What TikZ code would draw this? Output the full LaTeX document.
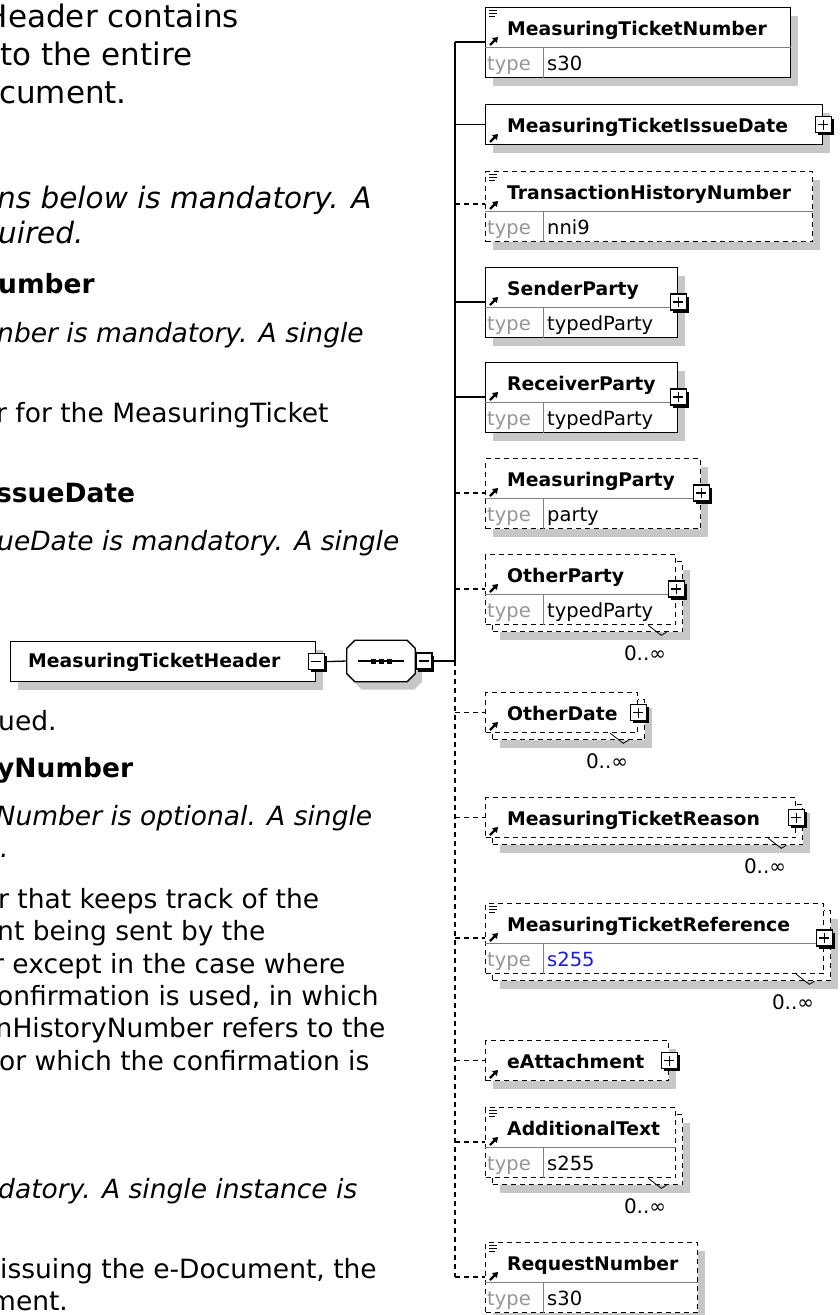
\documentclass[tikz,border=0pt]{standalone}
\usepackage{fontspec}
\setmainfont{DejaVu Sans}[ItalicFont={DejaVu Sans Oblique},BoldFont={DejaVu Sans Bold},BoldItalicFont={DejaVu Sans Bold Oblique}]
\usetikzlibrary{arrows.meta,shadows}
\definecolor{typegray}{RGB}{150,150,150}
\definecolor{refblue}{RGB}{25,25,235}
\tikzset{
    elbox/.style={draw,fill=white,line width=1.3pt,inner sep=0pt,anchor=north west},
    opt/.style={dash pattern=on 5pt off 4pt},
    drop/.style={general shadow={fill=black!22,shadow xshift=7pt,shadow yshift=-8pt}},
    rowline/.style={draw=black!50,line width=1pt},
    link/.style={line width=1.3pt},
    elname/.style={anchor=base west,inner sep=0pt,font=\fontsize{18.8}{22}\selectfont\bfseries},
    eltype/.style={anchor=base west,inner sep=0pt,text=typegray,font=\fontsize{19.5}{22}\selectfont},
    elval/.style={anchor=base west,inner sep=0pt,font=\fontsize{19.5}{22}\selectfont},
    occurs/.style={anchor=east,inner sep=0pt,font=\fontsize{20}{22}\selectfont},
    pmbox/.style={draw,fill=white,line width=1.3pt,minimum size=16pt,inner sep=0pt,
        general shadow={fill=black,shadow xshift=2.5pt,shadow yshift=-2.5pt}},
    plusbox/.style={pmbox,path picture={\draw[line width=1.3pt]
        ([xshift=-5pt]path picture bounding box.center) -- ([xshift=5pt]path picture bounding box.center)
        ([yshift=-5pt]path picture bounding box.center) -- ([yshift=5pt]path picture bounding box.center);}},
    minusbox/.style={pmbox,path picture={\draw[line width=1.3pt]
        ([xshift=-5pt]path picture bounding box.center) -- ([xshift=5pt]path picture bounding box.center);}},
    para/.style={anchor=base west,inner sep=0pt,font=\fontsize{26.5}{32}\selectfont},
    paraem/.style={para,font=\fontsize{26.5}{32}\selectfont\itshape},
    parabf/.style={para,font=\fontsize{26.5}{32}\selectfont\bfseries},
    paralead/.style={para,font=\fontsize{31}{38}\selectfont},
    paraleadem/.style={para,font=\fontsize{29.5}{36}\selectfont\itshape},
    docmark/.pic={\draw[line width=1pt] (0,0) -- (8,0) (0,3) -- (8,3) (0,6) -- (6,6);},
    refmark/.pic={\draw[line width=2.2pt,-{Triangle[length=5pt,width=6.5pt]}] (0,0) -- (8,-8);}
}
\begin{document}
\begin{tikzpicture}[x=1pt,y=-1pt]
    \useasboundingbox (0,0) rectangle (840,1315);
    %% text of the page beside the diagram
    \node[paralead] (p1) at (8,27) {\llap{H}eader contains};
    \node[paralead] (p2) at (0,65) {to the entire};
    \node[paralead] (p3) at (-1,103) {cument.};
    \node[paraleadem] (p4) at (-3,208) {ns below is mandatory. A};
    \node[paraleadem] (p5) at (-2,243) {uired.};
    \node[parabf] (p6) at (-2,293) {umber};
    \node[paraem] (p7) at (-3,342) {nber is mandatory. A single};
    \node[para] (p8) at (-4,422) {r for the MeasuringTicket};
    \node[parabf] (p9) at (-4,502) {ssueDate};
    \node[paraem] (p10) at (-3,550) {ueDate is mandatory. A single};
    \node[para] (p11) at (-2,730) {ued.};
    \node[parabf] (p12) at (-3,777) {yNumber};
    \node[paraem] (p13) at (-4.5,825) {Number is optional. A single};
    \node[paraem] (p14) at (0,857) {.};
    \node[para] (p15) at (-2,908) {r that keeps track of the};
    \node[para] (p16) at (-3,940) {nt being sent by the};
    \node[para] (p17) at (-7,973) {r except in the case where};
    \node[para] (p18) at (-3,1005) {onfirmation is used, in which};
    \node[para] (p19) at (-4.5,1037) {nHistoryNumber refers to the};
    \node[para] (p20) at (-1,1070) {or which the confirmation is};
    \node[paraem] (p21) at (-2,1198) {datory. A single instance is};
    \node[para] (p22) at (0,1278) {issuing the e-Document, the};
    \node[para] (p23) at (-10,1310) {ment.};

    %% MeasuringTicketHeader and its sequence
    \node[elbox,drop,minimum width=305pt,minimum height=40pt] (hdr) at (10,641) {};
    \node[elname] (hdr-l) at ([shift={(18,26)}]hdr.north west) {MeasuringTicketHeader};
    \node[minusbox] (hdr-m) at (hdr.east) {};
    \node[minimum width=68pt,minimum height=41pt,inner sep=0pt] (seq) at (381,661) {};
    \fill[black!22,transform canvas={shift={(7pt,-8pt)}}] ([xshift=8pt]seq.north west) -- ([xshift=-8pt]seq.north east)
        -- ([yshift=-8pt]seq.north east) -- ([yshift=8pt]seq.south east) -- ([xshift=-8pt]seq.south east)
        -- ([xshift=8pt]seq.south west) -- ([yshift=8pt]seq.south west) -- ([yshift=-8pt]seq.north west) -- cycle;
    \draw[link,fill=white] ([xshift=8pt]seq.north west) -- ([xshift=-8pt]seq.north east)
        -- ([yshift=-8pt]seq.north east) -- ([yshift=8pt]seq.south east) -- ([xshift=-8pt]seq.south east)
        -- ([xshift=8pt]seq.south west) -- ([yshift=8pt]seq.south west) -- ([yshift=-8pt]seq.north west) -- cycle;
    \draw[link] ([xshift=-23pt]seq.center) -- ([xshift=23pt]seq.center);
    \fill ([xshift=-8pt]seq.center) +(-2.5,-2.5) rectangle +(2.5,2.5);
    \fill (seq.center) +(-2.5,-2.5) rectangle +(2.5,2.5);
    \fill ([xshift=8pt]seq.center) +(-2.5,-2.5) rectangle +(2.5,2.5);
    \node[minusbox,anchor=west] (seq-m) at (seq.east) {};
    \coordinate (spine) at (455,661);

    %% MeasuringTicketNumber
    \node[elbox,drop,minimum width=305pt,minimum height=70pt] (tnum) at (485,7) {};
    \draw[rowline] ([yshift=-40pt]tnum.north west) -- ([yshift=-40pt]tnum.north east)
        ([shift={(58,40)}]tnum.north west) -- ([xshift=58pt]tnum.south west);
    \node[elname] (tnum-l) at ([shift={(22,28)}]tnum.north west) {MeasuringTicketNumber};
    \node[eltype] (tnum-t) at ([shift={(2,63)}]tnum.north west) {type};
    \node[elval] (tnum-v) at ([shift={(62,63)}]tnum.north west) {s30};
    \coordinate (tnum-p) at ([yshift=-35pt]tnum.north west);
    \pic at ([shift={(4,3)}]tnum.north west) {docmark};
    \pic at ([shift={(5,38)}]tnum.north west) {refmark};

    %% MeasuringTicketIssueDate
    \node[elbox,drop,minimum width=337pt,minimum height=40pt] (tdate) at (485,104) {};
    \node[elname] (tdate-l) at ([shift={(22,28)}]tdate.north west) {MeasuringTicketIssueDate};
    \coordinate (tdate-p) at (tdate.west);
    \node[plusbox] (tdate-x) at (tdate.east) {};
    \pic at ([shift={(5,38)}]tdate.north west) {refmark};

    %% TransactionHistoryNumber
    \node[elbox,opt,drop,minimum width=327pt,minimum height=70pt] (thist) at (485,171) {};
    \draw[rowline] ([yshift=-40pt]thist.north west) -- ([yshift=-40pt]thist.north east)
        ([shift={(58,40)}]thist.north west) -- ([xshift=58pt]thist.south west);
    \node[elname] (thist-l) at ([shift={(22,28)}]thist.north west) {TransactionHistoryNumber};
    \node[eltype] (thist-t) at ([shift={(2,63)}]thist.north west) {type};
    \node[elval] (thist-v) at ([shift={(62,63)}]thist.north west) {nni9};
    \coordinate (thist-p) at ([yshift=-33pt]thist.north west);
    \pic at ([shift={(4,3)}]thist.north west) {docmark};
    \pic at ([shift={(5,38)}]thist.north west) {refmark};

    %% SenderParty
    \node[elbox,drop,minimum width=192pt,minimum height=70pt] (send) at (485,267) {};
    \draw[rowline] ([yshift=-40pt]send.north west) -- ([yshift=-40pt]send.north east)
        ([shift={(58,40)}]send.north west) -- ([xshift=58pt]send.south west);
    \node[elname] (send-l) at ([shift={(22,28)}]send.north west) {SenderParty};
    \node[eltype] (send-t) at ([shift={(2,63)}]send.north west) {type};
    \node[elval] (send-v) at ([shift={(62,63)}]send.north west) {typedParty};
    \coordinate (send-p) at ([yshift=-35pt]send.north west);
    \node[plusbox] (send-x) at (send.east |- send-p) {};
    \pic at ([shift={(5,38)}]send.north west) {refmark};

    %% ReceiverParty
    \node[elbox,drop,minimum width=192pt,minimum height=70pt] (recv) at (485,362) {};
    \draw[rowline] ([yshift=-40pt]recv.north west) -- ([yshift=-40pt]recv.north east)
        ([shift={(58,40)}]recv.north west) -- ([xshift=58pt]recv.south west);
    \node[elname] (recv-l) at ([shift={(22,28)}]recv.north west) {ReceiverParty};
    \node[eltype] (recv-t) at ([shift={(2,63)}]recv.north west) {type};
    \node[elval] (recv-v) at ([shift={(62,63)}]recv.north west) {typedParty};
    \coordinate (recv-p) at ([yshift=-35pt]recv.north west);
    \node[plusbox] (recv-x) at (recv.east |- recv-p) {};
    \pic at ([shift={(5,38)}]recv.north west) {refmark};

    %% MeasuringParty
    \node[elbox,opt,drop,minimum width=215pt,minimum height=70pt] (mparty) at (485,458) {};
    \draw[rowline] ([yshift=-40pt]mparty.north west) -- ([yshift=-40pt]mparty.north east)
        ([shift={(58,40)}]mparty.north west) -- ([xshift=58pt]mparty.south west);
    \node[elname] (mparty-l) at ([shift={(22,28)}]mparty.north west) {MeasuringParty};
    \node[eltype] (mparty-t) at ([shift={(2,63)}]mparty.north west) {type};
    \node[elval] (mparty-v) at ([shift={(62,63)}]mparty.north west) {party};
    \coordinate (mparty-p) at ([yshift=-35pt]mparty.north west);
    \node[plusbox] (mparty-x) at (mparty.east |- mparty-p) {};
    \pic at ([shift={(5,38)}]mparty.north west) {refmark};

    %% OtherParty, 0..unbounded
    \node[elbox,opt,drop,minimum width=190pt,minimum height=70pt] (oparty-b) at (492,561) {};
    \node[elbox,opt,minimum width=190pt,minimum height=70pt] (oparty) at (485,554) {};
    \draw[rowline] ([yshift=-40pt]oparty.north west) -- ([yshift=-40pt]oparty.north east)
        ([shift={(58,40)}]oparty.north west) -- ([xshift=58pt]oparty.south west);
    \node[elname] (oparty-l) at ([shift={(22,28)}]oparty.north west) {OtherParty};
    \node[eltype] (oparty-t) at ([shift={(2,63)}]oparty.north west) {type};
    \node[elval] (oparty-v) at ([shift={(62,63)}]oparty.north west) {typedParty};
    \coordinate (oparty-p) at ([yshift=-35pt]oparty.north west);
    \node[plusbox] (oparty-x) at (oparty.east |- oparty-p) {};
    \pic at ([shift={(5,38)}]oparty.north west) {refmark};
    \draw[line width=.8pt] ([shift={(-35,-7)}]oparty-b.south east) -- ([shift={(-22,3)}]oparty-b.south east)
        -- ([shift={(-17,0)}]oparty-b.south east);
    \node[occurs] (oparty-n) at ([shift={(-17,21)}]oparty-b.south east) {0..∞};

    %% OtherDate, 0..unbounded
    \node[elbox,opt,drop,minimum width=152pt,minimum height=40pt] (odate-b) at (492,699) {};
    \node[elbox,opt,minimum width=152pt,minimum height=40pt] (odate) at (485,692) {};
    \node[elname] (odate-l) at ([shift={(22,28)}]odate.north west) {OtherDate};
    \coordinate (odate-p) at (odate.west);
    \node[plusbox] (odate-x) at (odate.east) {};
    \pic at ([shift={(5,38)}]odate.north west) {refmark};
    \draw[line width=.8pt] ([shift={(-35,-7)}]odate-b.south east) -- ([shift={(-22,3)}]odate-b.south east)
        -- ([shift={(-17,0)}]odate-b.south east);
    \node[occurs] (odate-n) at ([shift={(-17,21)}]odate-b.south east) {0..∞};

    %% MeasuringTicketReason, 0..unbounded
    \node[elbox,opt,drop,minimum width=310pt,minimum height=40pt] (reason-b) at (492,804) {};
    \node[elbox,opt,minimum width=310pt,minimum height=40pt] (reason) at (485,797) {};
    \node[elname] (reason-l) at ([shift={(22,28)}]reason.north west) {MeasuringTicketReason};
    \coordinate (reason-p) at (reason.west);
    \node[plusbox] (reason-x) at (reason.east) {};
    \pic at ([shift={(5,38)}]reason.north west) {refmark};
    \draw[line width=.8pt] ([shift={(-35,-7)}]reason-b.south east) -- ([shift={(-22,3)}]reason-b.south east)
        -- ([shift={(-17,0)}]reason-b.south east);
    \node[occurs] (reason-n) at ([shift={(-17,21)}]reason-b.south east) {0..∞};

    %% MeasuringTicketReference, 0..unbounded
    \node[elbox,opt,drop,minimum width=338pt,minimum height=70pt] (tref-b) at (492,910) {};
    \node[elbox,opt,minimum width=338pt,minimum height=70pt] (tref) at (485,903) {};
    \draw[rowline] ([yshift=-40pt]tref.north west) -- ([yshift=-40pt]tref.north east)
        ([shift={(58,40)}]tref.north west) -- ([xshift=58pt]tref.south west);
    \node[elname] (tref-l) at ([shift={(22,28)}]tref.north west) {MeasuringTicketReference};
    \node[eltype] (tref-t) at ([shift={(2,63)}]tref.north west) {type};
    \node[elval,text=refblue] (tref-v) at ([shift={(62,63)}]tref.north west) {s255};
    \coordinate (tref-p) at ([yshift=-35pt]tref.north west);
    \node[plusbox] (tref-x) at (tref.east |- tref-p) {};
    \pic at ([shift={(4,3)}]tref.north west) {docmark};
    \pic at ([shift={(5,38)}]tref.north west) {refmark};
    \draw[line width=.8pt] ([shift={(-35,-7)}]tref-b.south east) -- ([shift={(-22,3)}]tref-b.south east)
        -- ([shift={(-17,0)}]tref-b.south east);
    \node[occurs] (tref-n) at ([shift={(-17,21)}]tref-b.south east) {0..∞};

    %% eAttachment
    \node[elbox,opt,drop,minimum width=183pt,minimum height=40pt] (attach) at (485,1040) {};
    \node[elname] (attach-l) at ([shift={(22,28)}]attach.north west) {eAttachment};
    \coordinate (attach-p) at (attach.west);
    \node[plusbox] (attach-x) at (attach.east) {};
    \pic at ([shift={(5,38)}]attach.north west) {refmark};

    %% AdditionalText, 0..unbounded
    \node[elbox,opt,drop,minimum width=190pt,minimum height=70pt] (addtext-b) at (492,1114) {};
    \node[elbox,opt,minimum width=190pt,minimum height=70pt] (addtext) at (485,1107) {};
    \draw[rowline] ([yshift=-40pt]addtext.north west) -- ([yshift=-40pt]addtext.north east)
        ([shift={(58,40)}]addtext.north west) -- ([xshift=58pt]addtext.south west);
    \node[elname] (addtext-l) at ([shift={(22,28)}]addtext.north west) {AdditionalText};
    \node[eltype] (addtext-t) at ([shift={(2,63)}]addtext.north west) {type};
    \node[elval] (addtext-v) at ([shift={(62,63)}]addtext.north west) {s255};
    \coordinate (addtext-p) at ([yshift=-35pt]addtext.north west);
    \pic at ([shift={(4,3)}]addtext.north west) {docmark};
    \pic at ([shift={(5,38)}]addtext.north west) {refmark};
    \draw[line width=.8pt] ([shift={(-35,-7)}]addtext-b.south east) -- ([shift={(-22,3)}]addtext-b.south east)
        -- ([shift={(-17,0)}]addtext-b.south east);
    \node[occurs] (addtext-n) at ([shift={(-17,21)}]addtext-b.south east) {0..∞};

    %% RequestNumber
    \node[elbox,opt,drop,minimum width=212pt,minimum height=70pt] (reqnum) at (485,1242) {};
    \draw[rowline] ([yshift=-40pt]reqnum.north west) -- ([yshift=-40pt]reqnum.north east)
        ([shift={(58,40)}]reqnum.north west) -- ([xshift=58pt]reqnum.south west);
    \node[elname] (reqnum-l) at ([shift={(22,28)}]reqnum.north west) {RequestNumber};
    \node[eltype] (reqnum-t) at ([shift={(2,63)}]reqnum.north west) {type};
    \node[elval] (reqnum-v) at ([shift={(62,63)}]reqnum.north west) {s30};
    \coordinate (reqnum-p) at ([yshift=-35pt]reqnum.north west);
    \pic at ([shift={(4,3)}]reqnum.north west) {docmark};
    \pic at ([shift={(5,38)}]reqnum.north west) {refmark};

    %% connectors
    \draw[link] (hdr-m.east) -- (seq.west);
    \draw[link] (seq-m.east) -- (spine);
    \draw[link] (tnum-p -| spine) -- (spine);
    \draw[link,opt] (spine) -- (reqnum-p -| spine);
    \draw[link] (tnum-p -| spine) -- (tnum-p);
    \draw[link] (tdate-p -| spine) -- (tdate-p);
    \draw[link,opt] (thist-p -| spine) -- (thist-p);
    \draw[link] (send-p -| spine) -- (send-p);
    \draw[link] (recv-p -| spine) -- (recv-p);
    \draw[link,opt] (mparty-p -| spine) -- (mparty-p);
    \draw[link,opt] (oparty-p -| spine) -- (oparty-p);
    \draw[link,opt] (odate-p -| spine) -- (odate-p);
    \draw[link,opt] (reason-p -| spine) -- (reason-p);
    \draw[link,opt] (tref-p -| spine) -- (tref-p);
    \draw[link,opt] (attach-p -| spine) -- (attach-p);
    \draw[link,opt] (addtext-p -| spine) -- (addtext-p);
    \draw[link,opt] (reqnum-p -| spine) -- (reqnum-p);
\end{tikzpicture}
\end{document}
